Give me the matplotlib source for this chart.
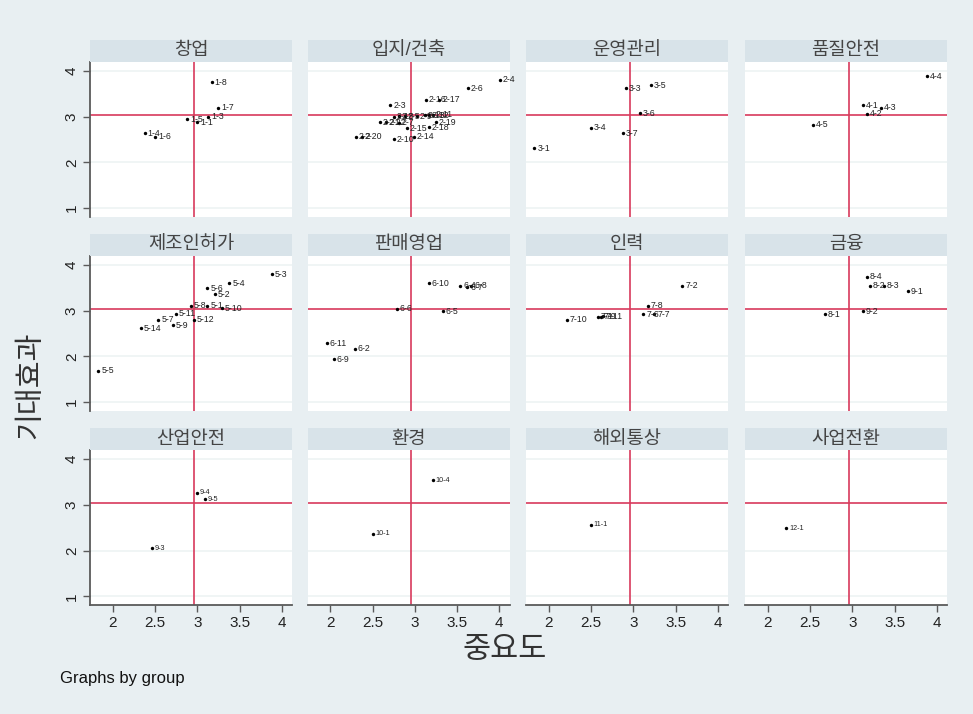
import matplotlib
matplotlib.use("Agg")
import matplotlib.pyplot as plt

plt.rcParams['font.family'] = ['Liberation Sans', 'Noto Sans CJK KR']

# group names (panel titles)
groups = ["창업", "입지/건축", "운영관리", "품질안전",
          "제조인허가", "판매영업", "인력", "금융",
          "산업안전", "환경", "해외통상", "사업전환"]

# overall means (reference lines)
mean_x = 2.96
mean_y = 3.04

g1_lab = ["1-1", "1-3", "1-4", "1-5", "1-6", "1-7", "1-8"]
g1_x = [3.00, 3.13, 2.38, 2.88, 2.50, 3.25, 3.17]
g1_y = [2.88, 3.00, 2.63, 2.94, 2.56, 3.19, 3.75]

g2_lab = ["2-1", "2-2", "2-3", "2-4", "2-5", "2-6", "2-7", "2-8", "2-9", "2-10", "2-11",
          "2-12", "2-13", "2-14", "2-15", "2-16", "2-17", "2-18", "2-19", "2-20", "2-21", "2-22"]
g2_x = [2.75, 2.30, 2.71, 4.01, 2.88, 3.63, 2.81, 2.81, 3.02, 2.75, 3.21,
        3.17, 3.12, 2.99, 2.91, 3.13, 3.29, 3.17, 3.25, 2.37, 2.59, 2.66]
g2_y = [3.00, 2.56, 3.25, 3.81, 3.01, 3.62, 2.86, 3.01, 3.01, 2.50, 3.04,
        3.03, 3.03, 2.56, 2.74, 3.37, 3.37, 2.77, 2.88, 2.56, 2.88, 2.88]

g3_lab = ["3-1", "3-3", "3-4", "3-5", "3-6", "3-7"]
g3_x = [1.83, 2.91, 2.50, 3.21, 3.08, 2.88]
g3_y = [2.31, 3.62, 2.75, 3.69, 3.07, 2.63]

g4_lab = ["4-1", "4-2", "4-3", "4-4", "4-5"]
g4_x = [3.13, 3.17, 3.34, 3.88, 2.54]
g4_y = [3.25, 3.06, 3.19, 3.88, 2.82]

g5_lab = ["5-1", "5-2", "5-3", "5-4", "5-5", "5-6", "5-7", "5-8", "5-9", "5-10",
          "5-11", "5-12", "5-14"]
g5_x = [3.12, 3.21, 3.88, 3.38, 1.83, 3.12, 2.54, 2.92, 2.71, 3.29, 2.75, 2.96, 2.33]
g5_y = [3.11, 3.36, 3.79, 3.60, 1.68, 3.49, 2.80, 3.11, 2.68, 3.05, 2.93, 2.80, 2.61]

g6_lab = ["6-2", "6-4", "6-5", "6-6", "6-7", "6-8", "6-9", "6-10", "6-11"]
g6_x = [2.29, 3.54, 3.33, 2.79, 3.62, 3.67, 2.04, 3.17, 1.96]
g6_y = [2.17, 3.54, 2.99, 3.04, 3.51, 3.54, 1.93, 3.60, 2.29]

g7_lab = ["7-1", "7-2", "7-6", "7-7", "7-8", "7-9", "7-10", "7-11"]
g7_x = [2.58, 3.58, 3.12, 3.25, 3.17, 2.62, 2.21, 2.64]
g7_y = [2.87, 3.54, 2.92, 2.92, 3.11, 2.87, 2.80, 2.88]

g8_lab = ["8-1", "8-2", "8-3", "8-4", "9-1", "9-2"]
g8_x = [2.68, 3.21, 3.37, 3.17, 3.66, 3.13]
g8_y = [2.92, 3.54, 3.54, 3.74, 3.42, 2.99]

g9_lab = ["9-3", "9-4", "9-5"]
g9_x = [2.46, 3.00, 3.09]
g9_y = [2.05, 3.26, 3.12]

g10_lab = ["10-1", "10-4"]
g10_x = [2.50, 3.21]
g10_y = [2.37, 3.54]

g11_lab = ["11-1"]
g11_x = [2.50]
g11_y = [2.56]

g12_lab = ["12-1"]
g12_x = [2.22]
g12_y = [2.49]

panels = [(g1_lab, g1_x, g1_y), (g2_lab, g2_x, g2_y), (g3_lab, g3_x, g3_y),
          (g4_lab, g4_x, g4_y), (g5_lab, g5_x, g5_y), (g6_lab, g6_x, g6_y),
          (g7_lab, g7_x, g7_y), (g8_lab, g8_x, g8_y), (g9_lab, g9_x, g9_y),
          (g10_lab, g10_x, g10_y), (g11_lab, g11_x, g11_y), (g12_lab, g12_x, g12_y)]

W, H = 973, 714
bg = '#e8eff2'
strip_col = '#d8e3e9'
red = '#d83a5c'
axis_col = '#5a5a5a'

fig = plt.figure(figsize=(W / 100, H / 100), dpi=100, facecolor=bg)

col_left = [90, 307.5, 526, 745]
row_top = [61.7, 255.7, 450]
pw, ph, sh = 202, 155, 21.7

for i, name in enumerate(groups):
    labs, xs, ys = panels[i]
    r, c = divmod(i, 4)
    left, top = col_left[c], row_top[r]

    ax = fig.add_axes([left / W, 1 - (top + ph) / H, pw / W, ph / H])
    ax.set_facecolor('white')
    ax.set_xlim(1.73, 4.12)
    ax.set_ylim(0.81, 4.2)
    for s in ax.spines.values():
        s.set_visible(False)
    for g in [1, 2, 4]:
        ax.axhline(g, color='#eef3f4', lw=1.2, zorder=0)
    ax.axhline(mean_y, color=red, lw=1.2, zorder=1)
    ax.axvline(mean_x, color=red, lw=1.2, zorder=1)
    ax.scatter(xs, ys, s=6, color='black', zorder=3, linewidths=0)
    fs = 6.3 if r < 2 else 5.2
    for lab, x, y in zip(labs, xs, ys):
        ax.annotate(lab, (x, y), xytext=(2, 0), textcoords='offset points',
                    fontsize=fs, va='center', ha='left', color='#222222', zorder=4)

    ax.tick_params(colors=axis_col, labelcolor='#222222', labelsize=11,
                   length=5, width=1)
    if c == 0:
        ax.spines['left'].set_visible(True)
        ax.spines['left'].set_color(axis_col)
        ax.spines['left'].set_linewidth(1.3)
        ax.set_yticks([1, 2, 3, 4])
        ax.tick_params(axis='y', labelrotation=90, pad=3)
        for t in ax.get_yticklabels():
            t.set_va('center')
    else:
        ax.set_yticks([])
    if r == 2:
        ax.spines['bottom'].set_visible(True)
        ax.spines['bottom'].set_color(axis_col)
        ax.spines['bottom'].set_linewidth(1.3)
        ax.set_xticks([2, 2.5, 3, 3.5, 4])
        ax.set_xticklabels(["2", "2.5", "3", "3.5", "4"])
        ax.tick_params(axis='x', pad=3)
    else:
        ax.set_xticks([])

    sax = fig.add_axes([left / W, 1 - top / H, pw / W, sh / H])
    sax.set_facecolor(strip_col)
    sax.set_xticks([])
    sax.set_yticks([])
    for s in sax.spines.values():
        s.set_visible(False)
    sax.text(0.5, 0.5, name, ha='center', va='center', fontsize=13.5,
             color='#444444', fontweight='light', transform=sax.transAxes)

fig.text(30 / W, 1 - 385 / H, "기대효과", rotation=90, ha='center', va='center',
         fontsize=21, color='#333333', fontweight='light')
fig.text(505 / W, 1 - 650 / H, "중요도", ha='center', va='center',
         fontsize=22, color='#333333', fontweight='light')
fig.text(60 / W, 1 - 678 / H, "Graphs by group", ha='left', va='center',
         fontsize=12, color='#111111')

fig.savefig("out.png", dpi=100, facecolor=bg)
